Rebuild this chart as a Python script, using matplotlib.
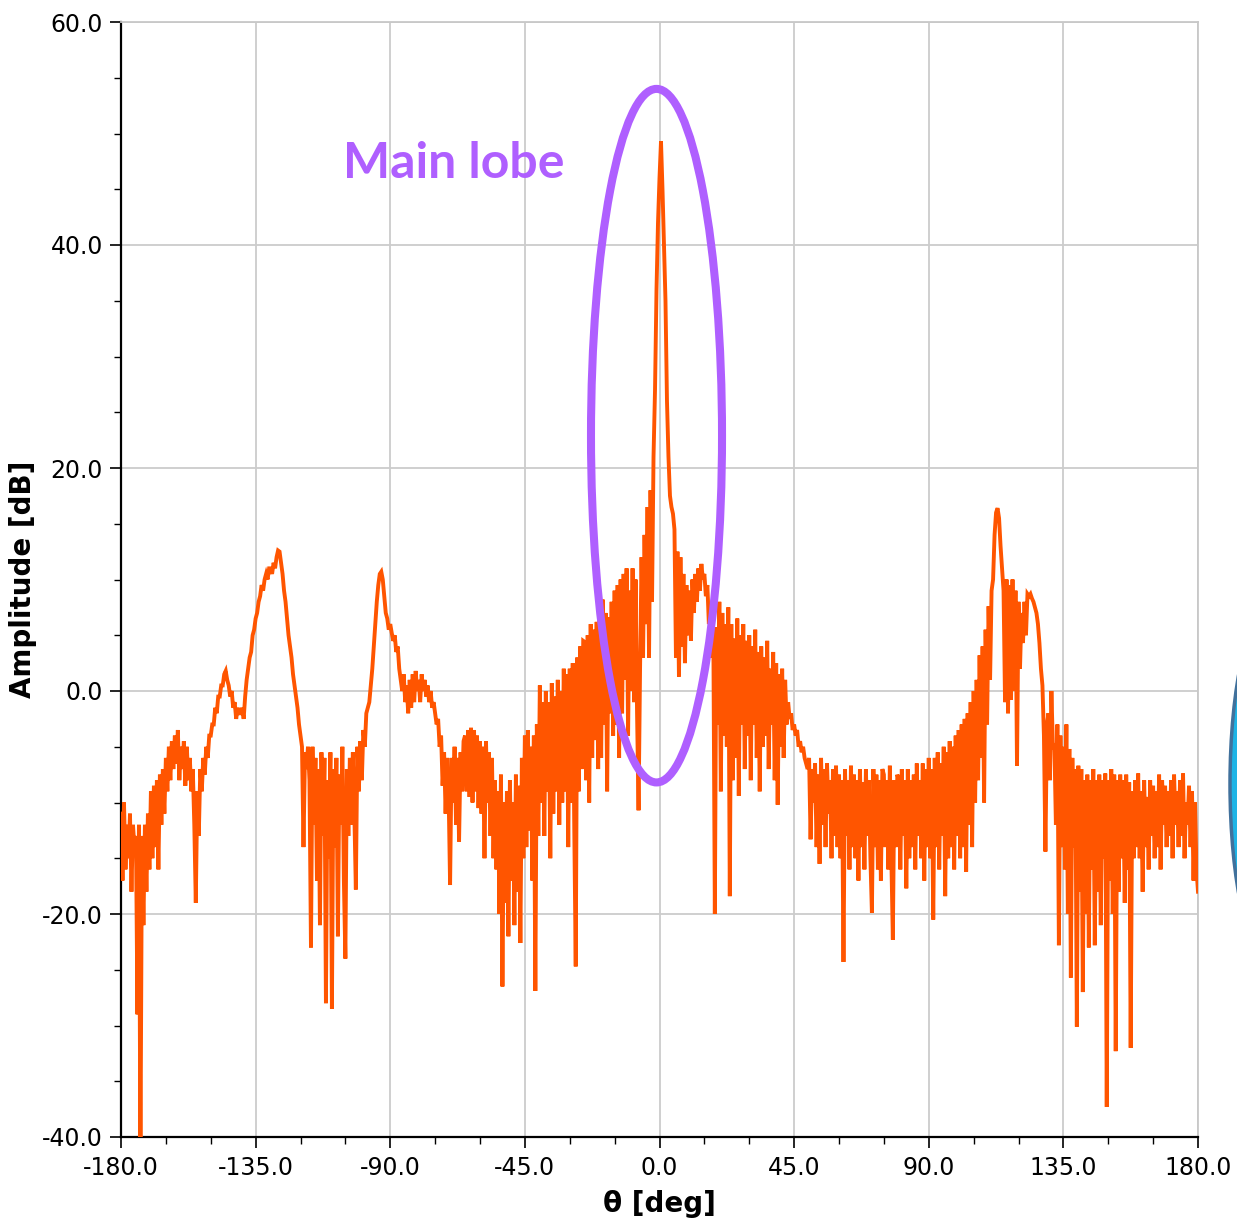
import numpy as np
import matplotlib
matplotlib.use("Agg")
import matplotlib.pyplot as plt
from matplotlib.ticker import MultipleLocator, FormatStrFormatter
from matplotlib.patches import Ellipse

# ---- data (amplitude in dB, sampled every 0.5 deg) ----
theta = np.arange(-180.0, 180.01, 0.5)

amp_q1 = [  # -180 .. -90.5
    -11, -17, -10, -16, -12, -15, -11, -18, -12, -14,
    -13, -29, -12, -42, -13, -21, -12, -18, -11, -16,
    -9, -15, -8.5, -14, -8, -16, -7.5, -12, -7, -11,
    -6, -9, -5, -8, -4.5, -7, -4, -6.5, -3.5, -8,
    -5, -7, -4.5, -8.5, -5, -8, -6, -9, -7, -12,
    -19, -9, -13, -7, -9, -6, -7.5, -5, -6, -4,
    -4, -3, -3, -1.5, -2, -0.5, -0.5, 0.5, 0.5, 1.5,
    1.8, 1, 0.5, -0.5, 0, -1.5, -1, -2.5, -1.5, -2,
    -2, -1.5, -2.5, -0.5, 1, 2, 3, 3.5, 5, 5.5,
    6.5, 7, 8, 8.5, 9.5, 9, 10, 10.5, 10, 11,
    11, 10.5, 11.5, 11, 12, 12.6, 12.5, 11.5, 10.5, 9,
    8, 6.5, 5, 4, 3, 1.5, 0.5, -0.5, -1.5, -3,
    -4, -5, -14, -5.5, -7, -5, -8, -23, -5, -12,
    -6, -17, -7, -21, -5.5, -13, -6, -28, -8, -15,
    -5.5, -28.5, -7, -14, -6, -22, -7.5, -12, -5, -17,
    -24, -7, -13, -6, -12, -5.5, -11, -17.8, -5, -9,
    -4.5, -8, -3.5, -5, -2, -1.5, -1, 0.5, 2, 4,
    6, 8, 9.5, 10.5, 10.7, 10, 8.5, 7, 6.5, 5.5,
]
amp_q2 = [  # -90 .. -0.5
    6, 5.2, 4.5, 5, 3.5, 4, 2, 1, 0, 1.5,
    -1, 0.5, -2, 1, -1.5, 1.5, -1, 1.8, 0, 1,
    -1, 1.5, 0, 1, -0.5, 0.5, -1, 0, -1.5, -1,
    -2, -3, -2.5, -5, -4, -8.5, -5.5, -11, -6, -9,
    -17.4, -6, -10, -5, -12, -6, -13.5, -5.5, -9, -4.5,
    -4, -9, -3.5, -9.5, -3.3, -10, -3.5, -9, -4, -10.5,
    -4.5, -11, -5, -15, -4.5, -10, -5.5, -13, -6, -15,
    -8, -16, -9, -20, -7.5, -26.5, -10, -19, -9, -22,
    -8, -17, -10, -21, -7.5, -18, -8.5, -22.6, -6, -15,
    -4, -14, -3.5, -12.5, -5, -17, -4, -26.9, -3, -13,
    0.5, -10, -1, -13, 0, -9, -1, -15, 0.7, -11,
    -0.5, -9, 1, -12, 0, -10, 2, -9, 1.5, -14,
    2, -10, 2.5, -12, -24.7, 3, -9, 4, -7, 4.5,
    4.4, -8, 5, -10, 6, -6, 5.5, -4.4, 6.2, -7,
    7, -6, 8.2, -3, 7, -9, 6.6, -2, 8, -4,
    9, -3, 9.5, -6, 10, -2, 10.5, 1, 11, -4,
    9, 0, 11, -1, 10, -2, -10.7, 2, 12, 3,
    14, 6, 16.5, 3, 18, 8, 21, 27, 36, 42,
]
amp_q3 = [  # 0 .. 89.5
    46, 49.3, 45, 40, 35, 26, 21, 17.5, 16.5, 15.9,
    14.5, 3, 12.5, 1.3, 12, 4, 10.5, 2.5, 9.5, 5,
    9, 4.5, 10, 7, 10.5, 8, 11, 9, 11.4, 10,
    10.5, 8.5, 9.5, 6, 7.5, 3, 5, -20, 5.7, -3,
    8, -9, 7, -4, 6, -5, 7.5, -18.4, 6, -8,
    4.7, -6, 6.5, -9.4, 5, -3, 6, -7, 4.5, -4,
    5, -8, 4, -3, 5.5, -6, 3.5, -9, 4, -5,
    3, -4, 4.5, -7, 2, -3, 3.5, -8, 2.5, -10.2,
    1.5, -5, 2, -6, 1, -3, -1, -2.5, -2, -3.5,
    -3, -4, -3.5, -5, -4.5, -5.5, -5, -6, -6.5, -7,
    -6, -13.3, -7, -10, -6.5, -14, -7.5, -15.5, -6, -12,
    -7, -14, -6.5, -11, -8, -15, -7, -13, -6.7, -14,
    -7.5, -15, -8, -24.3, -7, -13, -8, -16, -6.7, -14,
    -7.5, -15, -8, -17, -7, -14, -8.2, -16, -7, -13,
    -8, -15, -19.9, -7, -14, -7.5, -16, -8, -17, -7,
    -7.5, -14, -8, -16, -6.7, -15, -22.3, -8, -14, -7.5,
    -8, -16, -7, -13, -8, -17.7, -7, -15, -8, -14,
    -7.5, -16, -6.5, -13, -8, -15, -6.5, -17, -7, -14,
]
amp_q4 = [  # 90 .. 180
    -6, -15, -7, -20.5, -6, -14, -5.5, -16, -6.5, -13,
    -5, -18.4, -5.5, -15, -4.5, -14, -5, -16, -4, -13,
    -3.5, -15, -3, -14, -2.5, -16.2, -2, -12, -1, -14,
    0, -10, 1, -8, 3.2, -6, 4, -10, 5.5, -3,
    7.6, 1, 9, 10, 14, 16, 16.4, 15.5, 13, 11,
    9, -1, 10, -2, 9.5, -0.8, 10, 0, 9, -6.7,
    8, 2, 7, 4.3, 8, 5, 8.7, 8.5, 8.7, 8.3,
    8, 7.5, 7, 6, 4.3, 2, 0.5, -4, -14.4, -3,
    -2, -8, 0, -5, -4.9, -12, -3, -22.8, -4, -14,
    -5, -16, -3, -20, -5.2, -25.7, -6, -14, -7, -30.1,
    -6.7, -18, -7, -27, -8, -20, -7.5, -23, -8, -16,
    -7, -22.8, -8, -18, -7.5, -21, -8, -15, -7.4, -37.3,
    -8, -17, -7, -20, -7.5, -32.3, -8, -18, -7.5, -15,
    -8, -19, -7.5, -16, -8.2, -32, -9, -15, -8, -14,
    -7.4, -15, -9, -18, -8, -14, -9.5, -16, -8, -13,
    -8.5, -15, -9, -14, -7.5, -16, -8, -12, -8.5, -14,
    -9, -13, -8, -15, -7.5, -12, -9, -14, -8, -13,
    -7.4, -15, -10, -12, -8.5, -14, -9, -17, -10, -16,
    -18,
]
amplitude = np.array(amp_q1 + amp_q2 + amp_q3 + amp_q4, dtype=float)

x_label = "θ [deg]"
y_label = "Amplitude [dB]"
annot_text = "Main lobe"

# ---- figure ----
W, H = 1237, 1221
fig = plt.figure(figsize=(W / 100, H / 100), dpi=100)
ax = fig.add_axes([121 / W, 1 - 1137 / H, (1198 - 121) / W, (1137 - 22) / H])

ax.plot(theta, amplitude, color="#FF5500", lw=2.8, zorder=3,
        solid_joinstyle="miter")

ax.set_xlim(-180, 180)
ax.set_ylim(-40, 60)
ax.xaxis.set_major_locator(MultipleLocator(45))
ax.xaxis.set_minor_locator(MultipleLocator(15))
ax.yaxis.set_major_locator(MultipleLocator(20))
ax.yaxis.set_minor_locator(MultipleLocator(5))
ax.xaxis.set_major_formatter(FormatStrFormatter("%.1f"))
ax.yaxis.set_major_formatter(FormatStrFormatter("%.1f"))

ax.tick_params(which="major", direction="out", length=8, width=1.2,
               labelsize=17, pad=5, color="black")
ax.tick_params(which="minor", direction="out", length=5, width=1.0, color="black")
ax.tick_params(axis="x", which="major", pad=6)

ax.grid(True, which="major", color="#CCCCCC", lw=1.3, zorder=0)
ax.set_axisbelow(True)
for s in ("left", "bottom"):
    ax.spines[s].set_color("black")
    ax.spines[s].set_linewidth(1.6)
for s in ("top", "right"):
    ax.spines[s].set_color("#C8C8C8")
    ax.spines[s].set_linewidth(1.3)

ax.set_xlabel(x_label, fontsize=20, fontweight="bold", labelpad=7)
ax.set_ylabel(y_label, fontsize=20, fontweight="bold", labelpad=4)

# annotation: ellipse around main lobe + label
ax.add_patch(Ellipse((-1.0, 22.9), 43.8, 62.2, fill=False,
                     edgecolor="#AF5FFF", lw=5.8, zorder=5, clip_on=False))
ax.text(-68.7, 47.3, annot_text, color="#AF5FFF", fontsize=36,
        fontweight="bold", family=["Lato", "DejaVu Sans"],
        ha="center", va="center", zorder=6)

# fragment of another callout ellipse at the right edge of the slide crop
fig.patches.append(Ellipse((1272 / W, 1 - 784 / H), 84 / W, 360 / H,
                           transform=fig.transFigure, facecolor="#1EB4E6",
                           edgecolor="#41719C", lw=2.5, zorder=1))

fig.savefig("out.png", dpi=100)
